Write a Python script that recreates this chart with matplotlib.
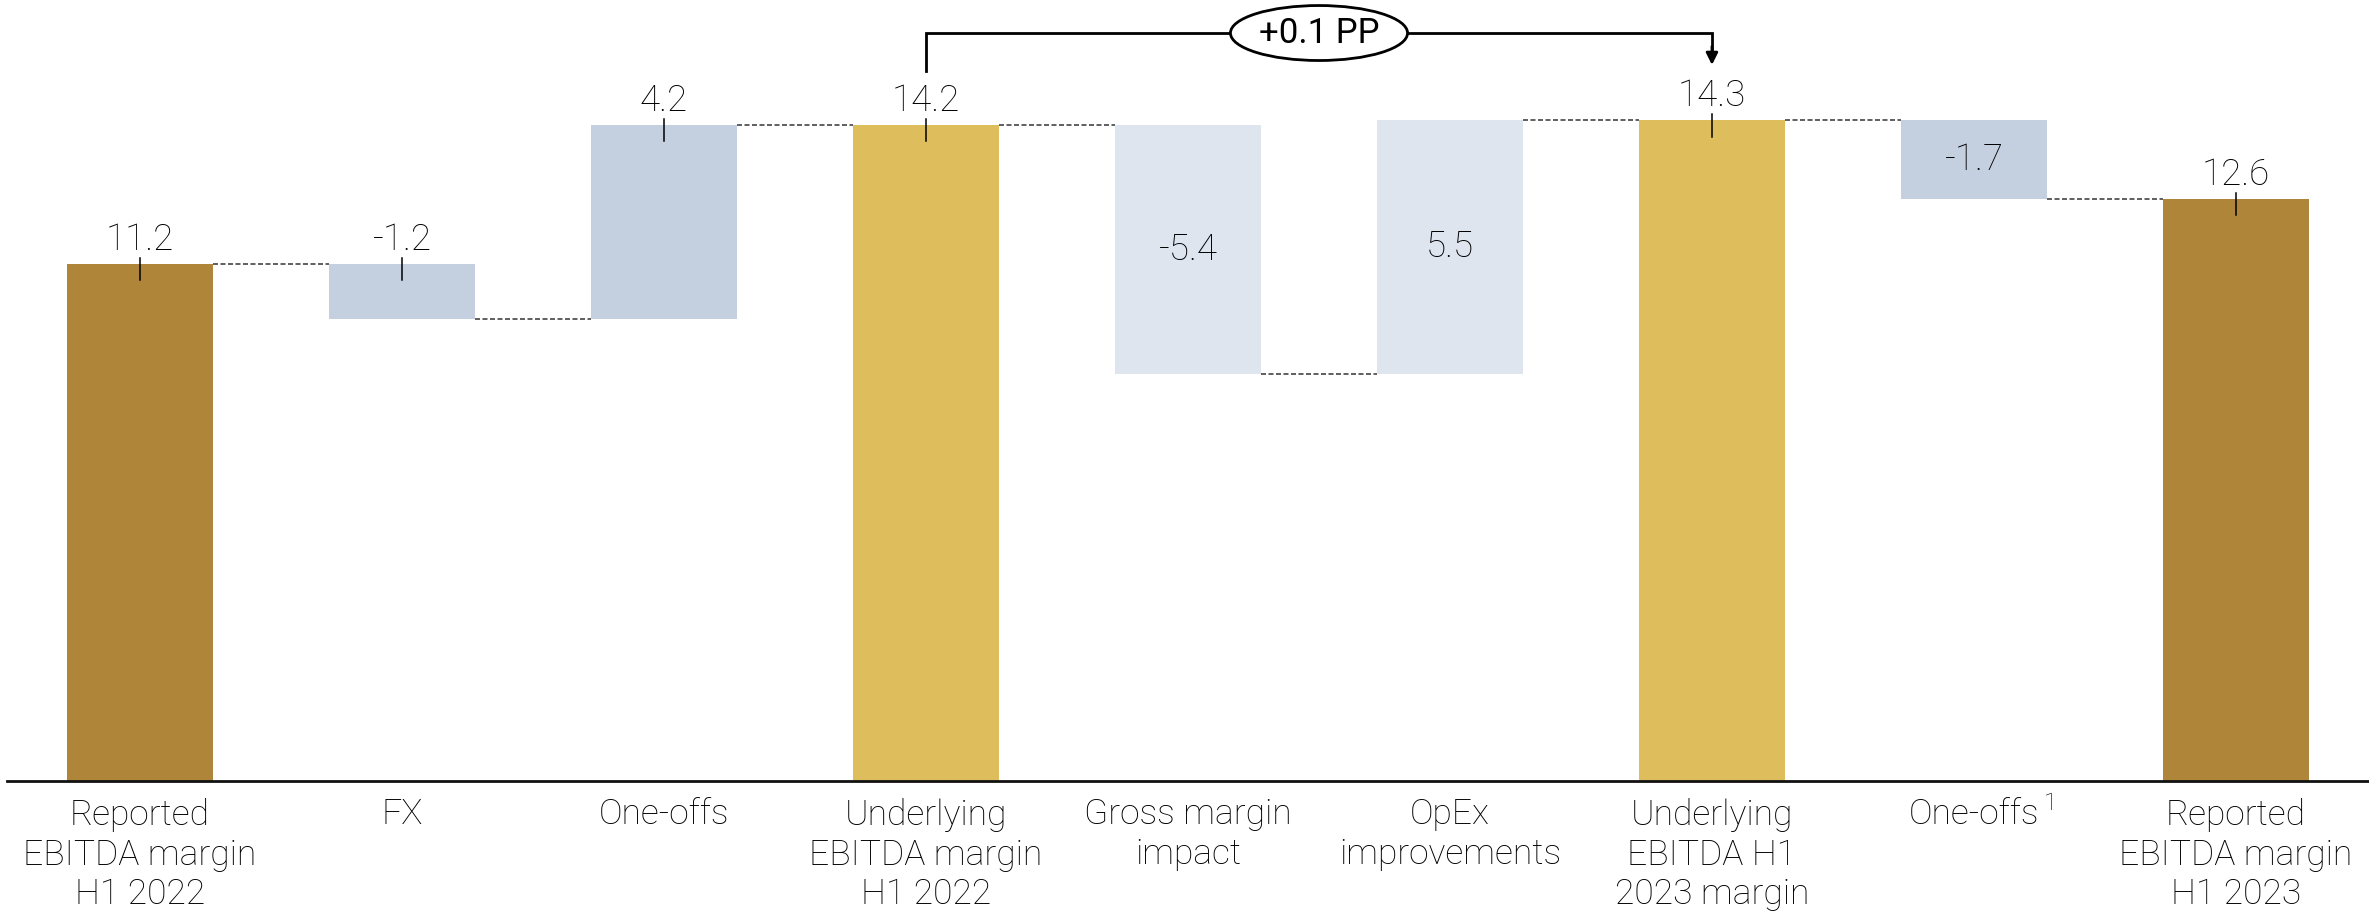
import matplotlib
matplotlib.use("Agg")
import matplotlib.pyplot as plt
from matplotlib.patches import Ellipse

plt.rcParams['font.family'] = ['Roboto', 'DejaVu Sans']

# EBITDA margin bridge, H1 2022 -> H1 2023 (percentage points)
categories = ["Reported\nEBITDA margin\nH1 2022", "FX", "One-offs",
              "Underlying\nEBITDA margin\nH1 2022", "Gross margin\nimpact",
              "OpEx\nimprovements", "Underlying\nEBITDA H1\n2023 margin",
              "One-offs", "Reported\nEBITDA margin\nH1 2023"]
values = [11.2, -1.2, 4.2, 14.2, -5.4, 5.5, 14.3, -1.7, 12.6]
is_total = [True, False, False, True, False, False, True, False, True]
labels = ["11.2", "-1.2", "4.2", "14.2", "-5.4", "5.5", "14.3", "-1.7", "12.6"]
label_inside = [4, 5, 7]
footnote_idx = 7
bridge_text = "+0.1 PP"
bridge_from, bridge_to = 3, 6

colors = ["#AF853A", "#C4CFE0", "#C4CFE0", "#DEBD5C", "#DFE5EF",
          "#DFE5EF", "#DEBD5C", "#C4CFE0", "#AF853A"]

# running level for the floating bars
bottoms, tops = [], []
level = 0.0
for v, tot in zip(values, is_total):
    if tot:
        bottoms.append(0.0)
        tops.append(v)
        level = v
    else:
        start = level
        level = start + v
        bottoms.append(min(start, level))
        tops.append(max(start, level))

W, H = 2369, 915
fig = plt.figure(figsize=(W / 100, H / 100), dpi=100)
ax = fig.add_axes([7 / W, 134 / H, 1 - 7 / W, 1 - 134 / H])
bw = 0.56
x = list(range(len(values)))
ax.bar(x, [t - b for t, b in zip(tops, bottoms)], bottom=bottoms,
       width=bw, color=colors, zorder=2)

# dashed connectors between neighbouring bars
lvl = 0.0
ends = []
for v, tot in zip(values, is_total):
    lvl = v if tot else lvl + v
    ends.append(lvl)
for i in range(len(values) - 1):
    ax.plot([i + bw / 2, i + 1 - bw / 2], [ends[i], ends[i]],
            color="#444444", lw=1.2, ls=(0, (3, 1.5)), zorder=1)

# value labels
for i, (b, t) in enumerate(zip(bottoms, tops)):
    if i in label_inside:
        ax.text(i, (b + t) / 2, labels[i], ha="center", va="center",
                fontsize=26.5, fontweight="light", color="black", zorder=3)
    else:
        ax.plot([i, i], [t + 0.13, t - 0.35], color="black", lw=1.1, zorder=3)
        ax.annotate(labels[i], xy=(i, t), xytext=(0, 10),
                    textcoords="offset points", ha="center", va="baseline",
                    fontsize=26.5, fontweight="light", color="black")

# bracket showing the change in underlying margin
y_br = 16.19
ax.plot([bridge_from, bridge_from, bridge_to, bridge_to],
        [15.37, y_br, y_br, 15.85], color="black", lw=2, zorder=3,
        solid_joinstyle="miter", clip_on=False)
ax.annotate("", xy=(bridge_to, 15.5), xytext=(bridge_to, 15.9),
            arrowprops=dict(arrowstyle="-|>,head_length=0.7,head_width=0.35",
                            color="black", lw=2, shrinkA=0, shrinkB=0))
mid = (bridge_from + bridge_to) / 2
ax.add_patch(Ellipse((mid, y_br), 0.676, 1.19, facecolor="white",
                     edgecolor="black", lw=2, zorder=4, clip_on=False))
ax.text(mid, y_br, bridge_text, ha="center", va="center", fontsize=25,
        color="black", zorder=5)

ax.set_xlim(-0.508, len(values) - 1 + 0.508)
ax.set_ylim(0, 781 / 46.2)
ax.set_xticks(x)
tick_labels = ax.set_xticklabels(categories, fontsize=25.5, fontweight="light",
                                 linespacing=1.24, color="black")
ax.tick_params(axis="x", length=0, pad=12)
ax.set_yticks([])
for s in ["top", "right", "left"]:
    ax.spines[s].set_visible(False)
ax.spines["bottom"].set_linewidth(2)
ax.spines["bottom"].set_color("#111111")

# footnote marker on the second one-offs label
fig.canvas.draw()
bb = tick_labels[footnote_idx].get_window_extent()
x0, y0 = ax.transData.inverted().transform((bb.x1, bb.y1))
ax.annotate("1", xy=(x0, y0), xytext=(3, 4), textcoords="offset points",
            ha="left", va="top", fontsize=17, fontweight="light",
            color="black", annotation_clip=False)

fig.savefig("out.png", dpi=100)
